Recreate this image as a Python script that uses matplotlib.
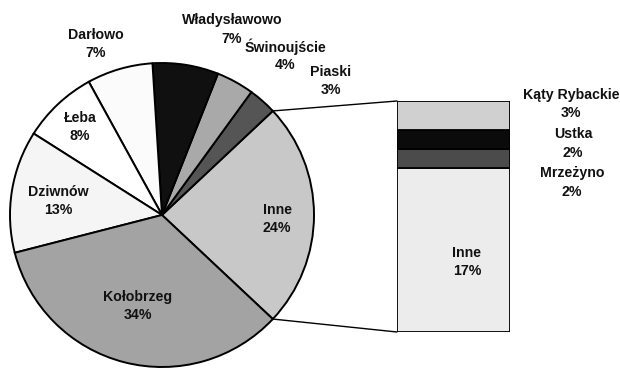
import numpy as np
import matplotlib.pyplot as plt
from matplotlib.patches import ConnectionPatch

# Udział portów (wykres kołowy) i rozbicie pozycji "Inne" (słupek)
pie_labels = ['Inne', 'Piaski', 'Świnoujście', 'Władysławowo', 'Darłowo', 'Łeba', 'Dziwnów', 'Kołobrzeg']
pie_values = [24, 3, 4, 7, 7, 8, 13, 34]
pie_colors = ['#c8c8c8', '#555555', '#a9a9a9', '#101010', '#fbfbfb', '#ffffff', '#f5f5f5', '#a3a3a3']

bar_labels = ['Inne', 'Mrzeżyno', 'Ustka', 'Kąty Rybackie']
bar_values = [17, 2, 2, 3]
bar_colors = ['#ececec', '#4b4b4b', '#0b0b0b', '#d0d0d0']

plt.rcParams['font.family'] = ['Liberation Sans', 'DejaVu Sans']

W, H = 620, 370
fig = plt.figure(figsize=(W / 100, H / 100), dpi=100)


def px(x, y):
    # piksele obrazu -> współrzędne figury
    return x / W, 1 - y / H


def label(x, y, name, val, x2=None):
    # nazwa i procent w dwóch wierszach, środek bloku w (x, y)
    kw = dict(ha='center', va='center', fontsize=10.2, fontweight='bold', color='#111111')
    fig.text(*px(x, y - 9.3), name, **kw)
    fig.text(*px(x if x2 is None else x2, y + 9.3), f'{val}%', **kw)


# Koło: środek (162, 215), promień 152 px
cx, cy, r, pad = 162, 215, 152, 160
ax_pie = fig.add_axes([(cx - pad) / W, (H - cy - pad) / H, 2 * pad / W, 2 * pad / H])

start = -pie_values[0] / sum(pie_values) * 360 / 2
wedges, _ = ax_pie.pie(pie_values, colors=pie_colors, startangle=start, counterclock=True,
                       radius=1, wedgeprops=dict(edgecolor='black', linewidth=1.4))
lim = pad / r
ax_pie.set_xlim(-lim, lim)
ax_pie.set_ylim(-lim, lim)
ax_pie.axis('off')

# Położenie etykiet (piksele)
pie_label_pos = [(277, 219), (331, 81), (285, 56), (232, 29.5), (96, 44), (80, 127), (58, 201), (138, 306)]
for name, val, (x, y) in zip(pie_labels, pie_values, pie_label_pos):
    label(x, y, name, val)

# Słupek rozbicia pozycji "Inne"
bx0, bx1, by0, by1 = 397, 510, 101, 332
ax_bar = fig.add_axes([bx0 / W, (H - by1) / H, (bx1 - bx0) / W, (by1 - by0) / H])
bottom = 0
for name, val, col in zip(bar_labels, bar_values, bar_colors):
    ax_bar.bar(0.5, val, width=1, bottom=bottom, color=col, edgecolor='black', linewidth=1.3)
    bottom += val
ax_bar.set_xlim(0, 1)
ax_bar.set_ylim(0, sum(bar_values))
ax_bar.axis('off')

bar_label_pos = [(467, 262), (572, 182.5), (573, 143.5), (571, 104)]
for name, val, (x, y) in zip(bar_labels, bar_values, bar_label_pos):
    label(x, y, name, val)

# Linie łączące wycinek "Inne" ze słupkiem
th1 = np.deg2rad(wedges[0].theta1)
th2 = np.deg2rad(wedges[0].theta2)
for th, yb in [(th2, sum(bar_values)), (th1, 0)]:
    con = ConnectionPatch(xyA=(np.cos(th), np.sin(th)), coordsA=ax_pie.transData,
                          xyB=(0, yb), coordsB=ax_bar.transData, color='black', linewidth=1)
    fig.add_artist(con)

fig.savefig('out.png', dpi=100, facecolor='white')
